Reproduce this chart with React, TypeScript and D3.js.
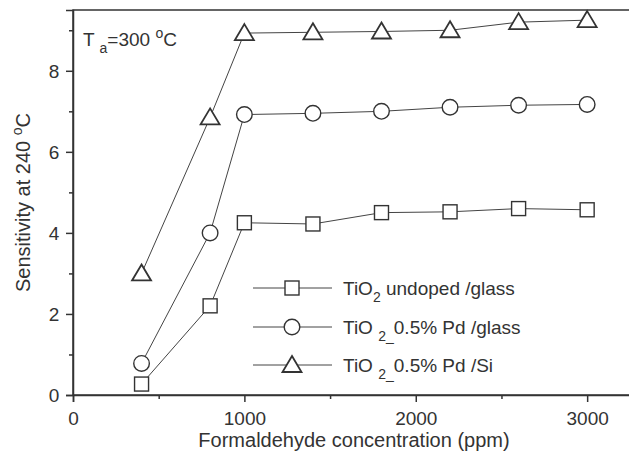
import { useEffect, useRef } from "react";
import * as d3 from "d3";

const conc = [400, 800, 1000, 1400, 1800, 2200, 2600, 3000];
const undopedGlass = [0.27, 2.2, 4.25, 4.22, 4.5, 4.52, 4.6, 4.57];
const pdGlass = [0.78, 4.0, 6.92, 6.95, 7.0, 7.1, 7.15, 7.17];
const pdSi = [3.0, 6.85, 8.93, 8.95, 8.97, 9.0, 9.2, 9.25];
const xTicks = [0, 1000, 2000, 3000];
const yTicks = [0, 2, 4, 6, 8];

const width = 637;
const height = 459;

function App() {
  const svgRef = useRef<SVGSVGElement>(null);

  useEffect(() => {
    const svg = d3.select(svgRef.current);
    svg.selectAll("*").remove();

    const left = 73, right = 630, top = 10, bottom = 395;
    const x = d3.scaleLinear().domain([0, 3250]).range([left, right]);
    const y = d3.scaleLinear().domain([0, 9.5]).range([bottom, top]);
    const font = "Liberation Sans, Arial, sans-serif";
    const ink = "#333";
    const fs = 19;

    // frame
    svg.append("rect")
      .attr("x", left).attr("y", top)
      .attr("width", right - left).attr("height", bottom - top)
      .attr("fill", "none").attr("stroke", ink).attr("stroke-width", 1.5);

    // x axis
    const xAxis = svg.append("g").attr("transform", `translate(0,${bottom})`)
      .call(d3.axisBottom(x).tickValues(xTicks).tickSize(7).tickFormat(d3.format("d")));
    svg.append("g").attr("transform", `translate(0,${bottom})`)
      .call(d3.axisBottom(x).tickValues([500, 1500, 2500]).tickSize(4).tickFormat(() => ""))
      .call(g => g.select(".domain").remove());
    // y axis
    const yAxis = svg.append("g").attr("transform", `translate(${left},0)`)
      .call(d3.axisLeft(y).tickValues(yTicks).tickSize(7));
    svg.append("g").attr("transform", `translate(${left},0)`)
      .call(d3.axisLeft(y).tickValues([1, 3, 5, 7, 9]).tickSize(4).tickFormat(() => ""))
      .call(g => g.select(".domain").remove());

    svg.selectAll(".tick line").attr("stroke", ink).attr("stroke-width", 1.5);
    svg.selectAll(".domain").attr("stroke", ink).attr("stroke-width", 1.5);
    xAxis.selectAll("text").attr("font-size", fs).attr("font-family", font).attr("fill", ink).attr("dy", "1.05em");
    yAxis.selectAll("text").attr("font-size", fs).attr("font-family", font).attr("fill", ink).attr("dx", "-0.2em").attr("dy", "0.35em");

    // axis titles
    svg.append("text").attr("x", 354).attr("y", 447)
      .attr("text-anchor", "middle").attr("font-size", 20).attr("font-family", font).attr("fill", ink)
      .text("Formaldehyde concentration (ppm)");
    const yl = svg.append("text")
      .attr("transform", `translate(30,${(top + bottom) / 2}) rotate(-90)`)
      .attr("text-anchor", "middle").attr("font-size", 20).attr("font-family", font).attr("fill", ink);
    yl.append("tspan").text("Sensitivity at 240 ");
    yl.append("tspan").attr("font-size", 14).attr("dy", -8).text("o");
    yl.append("tspan").attr("dy", 8).text("C");

    // annotation
    const ta = svg.append("text").attr("x", 83).attr("y", 46)
      .attr("font-size", fs).attr("font-family", font).attr("fill", ink);
    ta.append("tspan").text("T ");
    ta.append("tspan").attr("font-size", 14).attr("dy", 7).text("a");
    ta.append("tspan").attr("dy", -7).text("=300 ");
    ta.append("tspan").attr("font-size", 14).attr("dy", -8).text("o");
    ta.append("tspan").attr("dy", 8).text("C");

    const series = [
      { values: undopedGlass, shape: "square" },
      { values: pdGlass, shape: "circle" },
      { values: pdSi, shape: "triangle" },
    ];

    const drawMarker = (g: any, shape: string, cx: number, cy: number) => {
      if (shape === "square") {
        g.append("rect").attr("x", cx - 7).attr("y", cy - 7).attr("width", 14).attr("height", 14)
          .attr("fill", "white").attr("stroke", ink).attr("stroke-width", 1.4);
      } else if (shape === "circle") {
        g.append("circle").attr("cx", cx).attr("cy", cy).attr("r", 7.8)
          .attr("fill", "white").attr("stroke", ink).attr("stroke-width", 1.4);
      } else {
        const pts = [[cx, cy - 9], [cx + 9.5, cy + 7], [cx - 9.5, cy + 7]];
        g.append("polygon").attr("points", pts.map(p => p.join(",")).join(" "))
          .attr("fill", "white").attr("stroke", ink).attr("stroke-width", 1.8);
      }
    };

    const line = d3.line<number>().x((_, i) => x(conc[i])).y(d => y(d));

    series.forEach(s => {
      svg.append("path").datum(s.values).attr("d", line)
        .attr("fill", "none").attr("stroke", "#444").attr("stroke-width", 1);
    });
    series.forEach(s => {
      const g = svg.append("g");
      s.values.forEach((v, i) => drawMarker(g, s.shape, x(conc[i]), y(v)));
    });

    // legend
    const labels = [
      [["TiO", 0], ["2", 1], [" undoped /glass", -1]],
      [["TiO ", 0], ["2", 1], ["_", 2], ["0.5% Pd /glass", -1]],
      [["TiO ", 0], ["2", 1], ["_", 2], ["0.5% Pd /Si", -1]],
    ];
    const legY = [288, 327, 365];
    series.forEach((s, i) => {
      const g = svg.append("g");
      g.append("line").attr("x1", 253).attr("x2", 332).attr("y1", legY[i]).attr("y2", legY[i])
        .attr("stroke", "#444").attr("stroke-width", 1);
      drawMarker(g, s.shape, 292, legY[i]);
      const t = g.append("text").attr("x", 343).attr("y", legY[i] + 7)
        .attr("font-size", fs).attr("font-family", font).attr("fill", ink);
      (labels[i] as any[]).forEach(([txt, mode]) => {
        const ts = t.append("tspan").text(txt);
        if (mode === 1) ts.attr("font-size", 14).attr("dy", 7);
        else if (mode === 2) ts.attr("font-size", 14);
        else if (mode === -1) ts.attr("dy", -7);
      });
    });
  }, []);

  return <svg ref={svgRef} width={width} height={height} style={{ display: "block", margin: "-8px" }} />;
}

export default App;
